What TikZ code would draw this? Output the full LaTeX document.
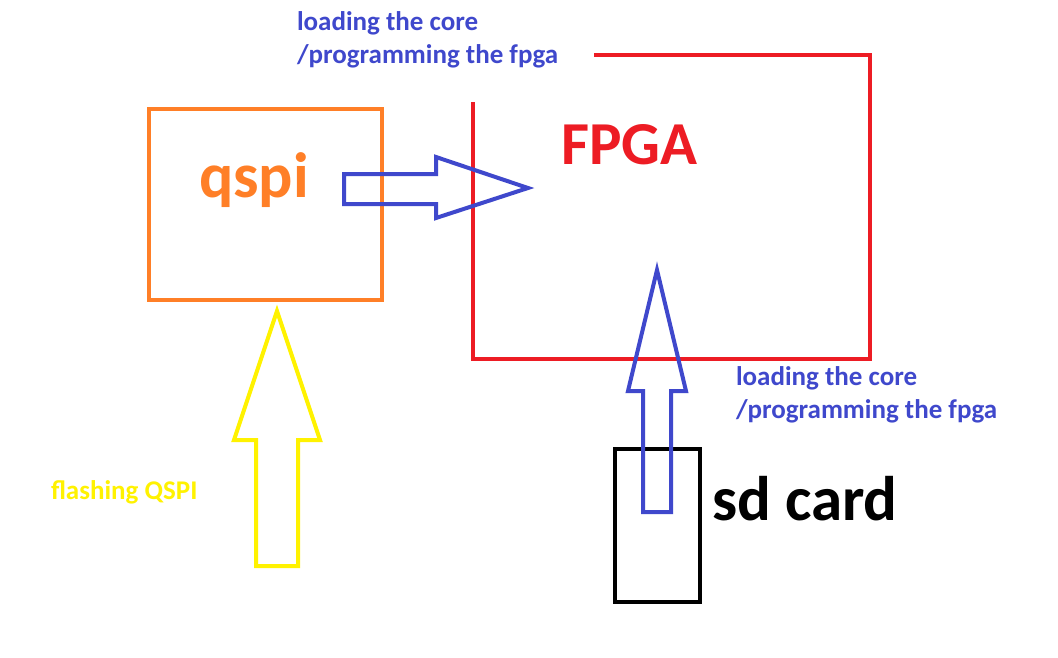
\documentclass[tikz,border=0pt]{standalone}
\usepackage{fontspec}
\setmainfont{Carlito}
\usetikzlibrary{positioning}
\definecolor{paintred}{RGB}{237,28,36}
\definecolor{paintorange}{RGB}{255,127,39}
\definecolor{paintyellow}{RGB}{255,242,0}
\definecolor{paintblue}{RGB}{63,72,204}

\begin{document}
\begin{tikzpicture}[x=1pt,y=-1pt,line width=4pt,
  part/.style={rectangle,inner sep=0pt},
  bigtext/.style={font=\bfseries\fontsize{#1}{#1}\selectfont,inner sep=0pt},
  note/.style={font=\bfseries\fontsize{27}{33}\selectfont,align=left,inner sep=0pt},
  flow/.style={line width=4pt,line join=miter}]
\useasboundingbox (0,0) rectangle (1058,657);
\fill[white] (0,0) rectangle (1058,657);

% boxes
\node[part,draw=paintorange,minimum width=233pt,minimum height=191pt] (qspi) at (265.5,204.5) {};
\node[part,minimum width=393pt,minimum height=300pt] (fpga) at (671.5,207) {};
\node[part,draw=black,minimum width=85pt,minimum height=153pt] (sd) at (657.5,525.5) {};
\draw[paintred] ([xshift=121pt]fpga.north west) -- (fpga.north east) -- (fpga.south east)
  -- (fpga.south west) -- ([yshift=-47pt]fpga.north west);

% labels
\node[bigtext=64,text=paintorange,anchor=base] (qspilabel) at (254,197) {qspi};
\node[bigtext=61,text=paintred,anchor=base] (fpgalabel) at (629.5,164) {FPGA};
\node[bigtext=63,text=black,anchor=base west] (sdlabel) at (710,520) {sd card};
\node[note,text=paintblue,anchor=west] (loadtop) at (295,40) {loading the core\\/programming the fpga};
\node[note,text=paintblue,anchor=west] (loadsd) at (734,395) {loading the core\\/programming the fpga};
\node[note,text=paintyellow,anchor=west] (flash) at (49,492) {flashing QSPI};

% block arrows
\draw[flow,paintblue] (344,174) -- (436,174) -- (436,157) -- (528,188) -- (436,218)
  -- (436,204) -- (344,204) -- cycle;
\draw[flow,paintyellow] (256,566) -- (256,440) -- (234,440) -- (277,311) -- (320,440)
  -- (298,440) -- (298,566) -- cycle;
\draw[flow,paintblue] (643,512) -- (643,391) -- (628,391) -- (657,270) -- (686,391)
  -- (671,391) -- (671,512) -- cycle;
\end{tikzpicture}
\end{document}
